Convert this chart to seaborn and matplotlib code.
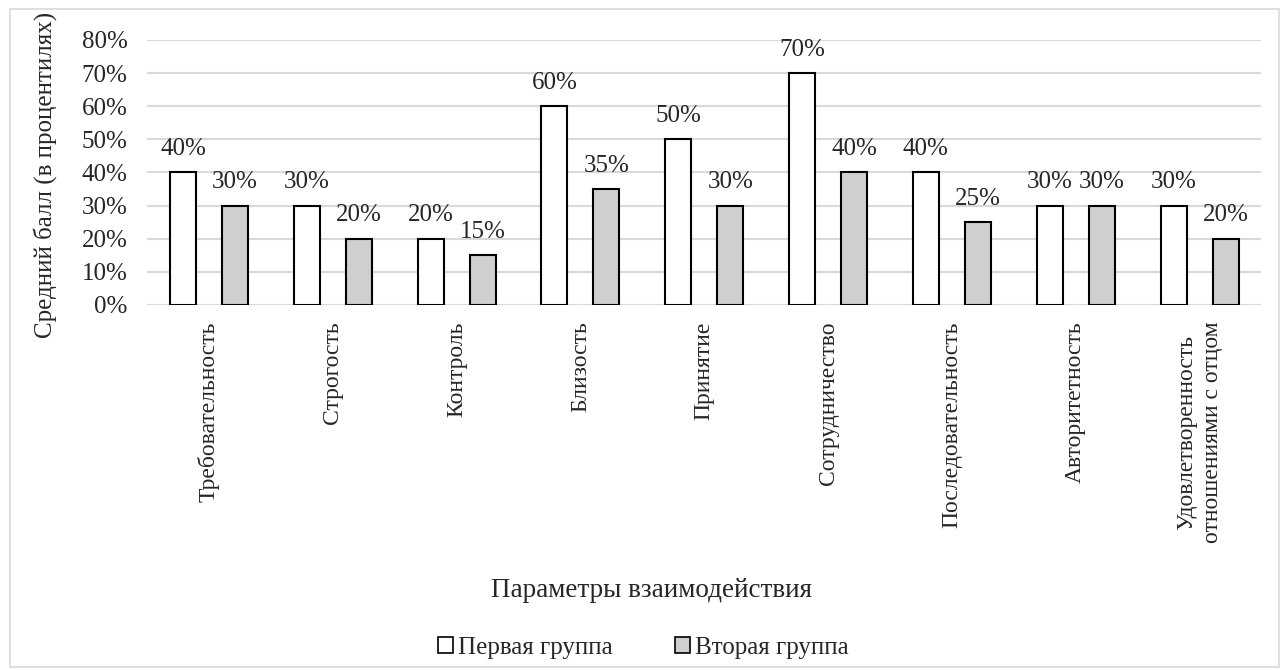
import pandas as pd
import matplotlib.pyplot as plt
import seaborn as sns
from matplotlib.patches import Rectangle, Patch
from matplotlib.ticker import PercentFormatter

# Данные
categories = ['Требовательность', 'Строгость', 'Контроль', 'Близость', 'Принятие',
              'Сотрудничество', 'Последовательность', 'Авторитетность',
              'Удовлетворенность\nотношениями с отцом']
group1 = [40, 30, 20, 60, 50, 70, 40, 30, 30]
group2 = [30, 20, 15, 35, 30, 40, 25, 30, 20]
series_names = ['Первая группа', 'Вторая группа']

df = pd.DataFrame({
    'category': categories * 2,
    'value': group1 + group2,
    'group': [series_names[0]] * len(categories) + [series_names[1]] * len(categories),
})

sns.set_style('white')
plt.rcParams['font.family'] = ['Liberation Serif', 'DejaVu Serif']
fs = 18

fig = plt.figure(figsize=(12.82, 6.7), dpi=100)
ax = fig.add_axes([0.1147, 0.5448, 0.8693, 0.3955])

colors = ['#ffffff', '#d0cece']
sns.barplot(data=df, x='category', y='value', hue='group', palette=colors,
            width=0.84, gap=0.5, edgecolor='black', linewidth=1.5, ax=ax,
            legend=False, zorder=3)

for cont in ax.containers:
    ax.bar_label(cont, labels=[f'{v:.0f}%' for v in cont.datavalues],
                 padding=9, fontsize=fs)

ax.set_ylim(0, 80)
ax.set_yticks(range(0, 81, 10))
ax.yaxis.set_major_formatter(PercentFormatter(decimals=0))
ax.grid(axis='y', color='#d9d9d9', linewidth=1.5, zorder=0)
ax.set_axisbelow(True)
for s in ax.spines.values():
    s.set_visible(False)
ax.tick_params(axis='both', length=0)
ax.tick_params(axis='y', pad=14, labelsize=fs)
ax.tick_params(axis='x', pad=12, labelsize=17)
plt.setp(ax.get_xticklabels(), rotation=90, va='top', ha='center', linespacing=1.3)
ax.set_xlabel('')
ax.set_ylabel('')

fig.text(45 / 1282, 1 - 175 / 670, 'Средний балл (в процентилях)', rotation=90,
         ha='center', va='center', fontsize=fs)
fig.text(0.508, 0.118, 'Параметры взаимодействия', ha='center', va='center', fontsize=19.5)

handles = [Patch(facecolor=c, edgecolor='black', linewidth=1.2) for c in colors]
fig.legend(handles, series_names, loc='center', bbox_to_anchor=(0.502, 0.033), ncol=2,
           frameon=False, fontsize=fs, handlelength=0.6, handleheight=0.6,
           handletextpad=0.2, columnspacing=2.5)

fig.patches.append(Rectangle((0.008, 0.004), 0.99, 0.983, transform=fig.transFigure,
                             fill=False, edgecolor='#d9d9d9', linewidth=1.2))

fig.savefig('out.png', dpi=100)
